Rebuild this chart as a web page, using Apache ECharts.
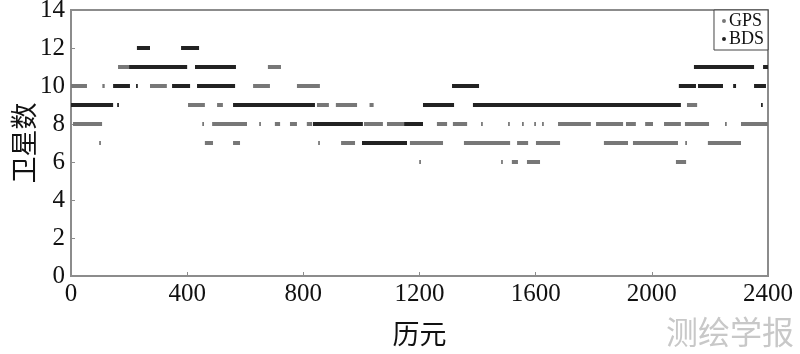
<!DOCTYPE html>
<html><head><meta charset="utf-8">
<script src="https://cdn.jsdelivr.net/npm/echarts@6/dist/echarts.min.js"></script>
<style>html,body{margin:0;padding:0;background:#fff}#c{width:800px;height:354px}</style>
</head><body><div id="c"></div>
<script>
// runs: [startEpoch, endEpoch, satelliteCount]
const gpsRuns = [
 [0,55,10],[108,116,10],[272,330,10],[627,685,10],[778,857,10],
 [162,200,11],[678,723,11],
 [403,461,9],[503,523,9],[847,888,9],[912,985,9],[1028,1042,9],[2121,2156,9],
 [7,107,8],[452,458,8],[486,606,8],[648,654,8],[702,720,8],[754,778,8],[812,830,8],
 [1009,1074,8],[1088,1147,8],[1260,1295,8],[1315,1364,8],[1412,1418,8],[1505,1511,8],
 [1553,1559,8],[1595,1601,8],[1622,1628,8],[1677,1790,8],[1808,1901,8],[1911,1945,8],
 [1977,2004,8],[2042,2100,8],[2114,2197,8],[2252,2258,8],[2307,2400,8],
 [97,103,7],[461,489,7],[558,582,7],[851,857,7],[930,978,7],[1167,1281,7],[1353,1512,7],
 [1536,1574,7],[1601,1684,7],[1835,1918,7],[1935,2090,7],[2115,2121,7],[2193,2307,7],
 [1199,1205,6],[1481,1487,6],[1518,1539,6],[1570,1615,6],[2083,2118,6]
];
const bdsRuns = [
 [227,272,12],[379,441,12],
 [200,400,11],[427,568,11],[2145,2352,11],[2383,2400,11],
 [145,203,10],[224,230,10],[348,410,10],[434,565,10],[1312,1405,10],[2093,2152,10],
 [2159,2245,10],[2280,2290,10],[2352,2393,10],
 [0,145,9],[159,165,9],[558,840,9],[1212,1319,9],[1384,2100,9],[2376,2382,9],
 [833,1005,8],[1147,1212,8],
 [1002,1157,7]
];
const xTicks = [0,400,800,1200,1600,2000,2400];
const yTicks = [0,2,4,6,8,10,12,14];
const seriesNames = ['GPS','BDS'];

function runsToLine(runs){
  const d=[];
  runs.forEach(r=>{ d.push([r[0],r[2]]); d.push([r[1],r[2]]); d.push([r[1],'-']); });
  return d;
}
const chart = echarts.init(document.getElementById('c'), null, {renderer:'canvas'});
const serif = 'Liberation Serif';
chart.setOption({
  animation:false,
  grid:{left:71,right:32,top:10,bottom:78,containLabel:false,outerBoundsMode:'none',
    show:true,borderColor:'#8c8c8c',borderWidth:2,backgroundColor:'#fff'},
  xAxis:{type:'value',min:xTicks[0],max:xTicks[xTicks.length-1],interval:400,
    axisLine:{show:true,lineStyle:{color:'#8c8c8c',width:2}},
    axisTick:{show:true,inside:true,length:4,lineStyle:{color:'#8c8c8c'}},
    splitLine:{show:false},
    axisLabel:{color:'#111',fontFamily:serif,fontSize:25,margin:6,formatter:v=>String(v)},
    name:'历元',nameLocation:'middle',nameGap:44,nameMoveOverlap:false,
    nameTextStyle:{color:'#111',fontFamily:'Noto Sans CJK SC',fontSize:27}},
  yAxis:{type:'value',min:yTicks[0],max:yTicks[yTicks.length-1],interval:2,
    axisLine:{show:true,lineStyle:{color:'#8c8c8c',width:2}},
    axisTick:{show:true,inside:true,length:4,lineStyle:{color:'#8c8c8c'}},
    splitLine:{show:false},
    axisLabel:{color:'#111',fontFamily:serif,fontSize:25,margin:6,formatter:v=>String(v)},
    name:'卫星数',nameLocation:'middle',nameGap:34,nameRotate:90,nameMoveOverlap:false,
    nameTextStyle:{color:'#111',fontFamily:'Noto Sans CJK SC',fontSize:27}},
  legend:{right:32,top:10,orient:'vertical',itemGap:0,itemWidth:4,itemHeight:4,
    padding:[2,4,2,8],borderColor:'#444',borderWidth:1,backgroundColor:'#fff',
    textStyle:{fontFamily:serif,fontSize:18,color:'#111',padding:[0,0,0,-2]},
    data:[{name:seriesNames[0],icon:'circle'},{name:seriesNames[1],icon:'circle'}]},
  series:[
    {name:seriesNames[0],type:'line',data:runsToLine(gpsRuns),showSymbol:false,symbol:'circle',
     connectNulls:false,color:'#777',lineStyle:{width:4,color:'#777'},z:2},
    {name:seriesNames[1],type:'line',data:runsToLine(bdsRuns),showSymbol:false,symbol:'circle',
     connectNulls:false,color:'#222',lineStyle:{width:4,color:'#222'},z:3}
  ],
  graphic:[{type:'text',right:6,bottom:6,style:{text:'测绘学报',fill:'#c8c8c8',
    font:'32px "Noto Sans CJK SC"'}}]
});
</script></body></html>
